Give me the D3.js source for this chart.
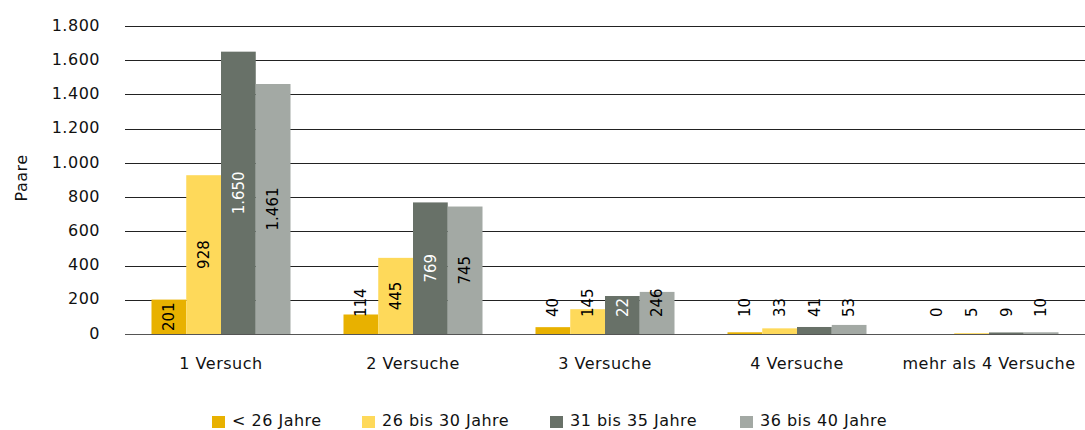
<!DOCTYPE html>
<html lang="de">
<head>
<meta charset="utf-8">
<title>Paare nach Versuchen</title>
<script src="https://d3js.org/d3.v7.min.js"></script>
<style>
  body { margin: 0; background: #fff; }
  text { font-family: "DejaVu Sans", sans-serif; }
</style>
</head>
<body>
<script>
// categories and series
var categories = ["1 Versuch", "2 Versuche", "3 Versuche", "4 Versuche", "mehr als 4 Versuche"];
var seriesNames = ["< 26 Jahre", "26 bis 30 Jahre", "31 bis 35 Jahre", "36 bis 40 Jahre"];
var under26 = [201, 114, 40, 10, 0];
var from26to30 = [928, 445, 145, 33, 5];
var from31to35 = [1650, 769, 222, 41, 9];
var from36to40 = [1461, 745, 246, 53, 10];
// labels as printed in the chart (one is cut off there)
var labels31to35 = ["1.650", "769", "22", "41", "9"];
var yTicks = [0, 200, 400, 600, 800, 1000, 1200, 1400, 1600, 1800];

var colors = ["#e8b100", "#fed95a", "#687168", "#a3a9a4"];

var w = 1085, h = 430;
var margin = {top: 26, right: 0, bottom: 96, left: 125};
var fontSize = 16;
var spacing = "0.5px";

var fmt = function(v) { return d3.format(",")(v).replace(/,/g, "."); };

var series = [under26, from26to30, from31to35, from36to40];

var svg = d3.select("body").append("svg")
    .attr("width", w)
    .attr("height", h);

var x0 = d3.scaleBand()
    .domain(categories)
    .range([margin.left, w - margin.right])
    .paddingInner(0.276)
    .paddingOuter(0.138);

var x1 = d3.scaleBand()
    .domain(d3.range(seriesNames.length))
    .range([0, x0.bandwidth()]);

var y = d3.scaleLinear()
    .domain([0, 1800])
    .range([h - margin.bottom, margin.top]);

// gridlines
svg.append("g")
    .selectAll("line")
    .data(yTicks)
    .enter().append("line")
    .attr("x1", margin.left)
    .attr("x2", w - margin.right)
    .attr("y1", d => Math.round(y(d)) + 0.5)
    .attr("y2", d => Math.round(y(d)) + 0.5)
    .attr("stroke", d => d === 0 ? "#555" : "#222")
    .attr("stroke-width", 1);

// y axis labels
var yAxis = svg.append("g")
    .attr("transform", "translate(" + (margin.left - 22) + ",-1)")
    .call(d3.axisLeft(y).tickValues(yTicks).tickFormat(fmt).tickSize(0));
yAxis.select(".domain").remove();
yAxis.selectAll("text")
    .attr("font-size", fontSize)
    .attr("letter-spacing", spacing)
    .attr("font-family", "DejaVu Sans, sans-serif")
    .attr("fill", "#111");

svg.append("text")
    .attr("transform", "translate(27,178) rotate(-90)")
    .attr("text-anchor", "middle")
    .attr("font-size", fontSize)
    .attr("letter-spacing", spacing)
    .attr("fill", "#111")
    .text("Paare");

// bars
var rows = [];
categories.forEach(function(c, i) {
  series.forEach(function(s, j) {
    var lab = j === 2 ? labels31to35[i] : fmt(s[i]);
    rows.push({cat: c, ci: i, s: j, v: s[i], label: lab});
  });
});

var base = y(0);

svg.append("g")
    .selectAll("rect")
    .data(rows)
    .enter().append("rect")
    .attr("x", d => x0(d.cat) + x1(d.s))
    .attr("y", d => y(d.v))
    .attr("width", x1.bandwidth())
    .attr("height", d => base - y(d.v))
    .attr("fill", d => colors[d.s]);

// value labels, rotated: centred in tall bars, else standing just above the axis
svg.append("g")
    .selectAll("text")
    .data(rows)
    .enter().append("text")
    .attr("font-size", 15)
    .attr("text-anchor", "middle")
    .attr("dy", "0.35em")
    .text(d => d.label)
    .each(function(d) {
      var len = this.getComputedTextLength();
      var inside = d.ci < 2 && d.v >= 200;
      var cy = inside ? (y(d.v) + base) / 2 : base - 17 - len / 2;
      var cx = x0(d.cat) + x1(d.s) + x1.bandwidth() / 2;
      var onBar = inside || y(d.v) < cy;
      d3.select(this)
        .attr("fill", d.s === 2 && onBar ? "#fff" : "#000")
        .attr("transform", "translate(" + cx + "," + cy + ") rotate(-90)");
    });

// category labels
svg.append("g")
    .selectAll("text")
    .data(categories)
    .enter().append("text")
    .attr("x", d => x0(d) + x0.bandwidth() / 2)
    .attr("y", base + 35)
    .attr("text-anchor", "middle")
    .attr("font-size", fontSize)
    .attr("letter-spacing", spacing)
    .attr("fill", "#111")
    .text(d => d);

// legend
var legendX = [212, 362, 550, 740];
var legend = svg.append("g")
    .selectAll("g")
    .data(seriesNames)
    .enter().append("g")
    .attr("transform", (d, i) => "translate(" + legendX[i] + "," + 416 + ")");
legend.append("rect")
    .attr("width", 13)
    .attr("height", 12)
    .attr("fill", (d, i) => colors[i]);
legend.append("text")
    .attr("x", 20)
    .attr("y", 10)
    .attr("font-size", fontSize)
    .attr("letter-spacing", spacing)
    .attr("fill", "#111")
    .text(d => d);
</script>
</body>
</html>
